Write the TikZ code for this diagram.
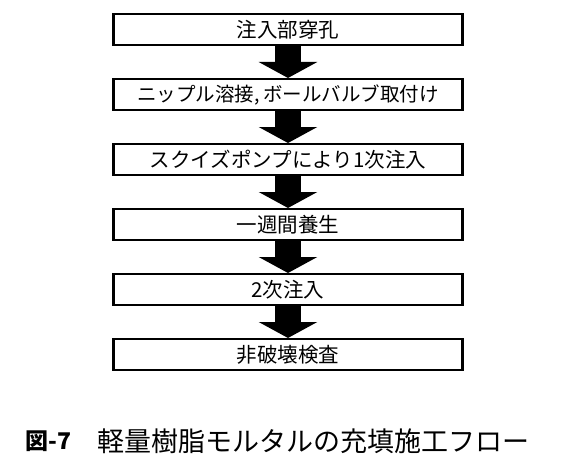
\documentclass[tikz,border=0pt]{standalone}
\usepackage{fontspec}
\setmainfont{Noto Sans CJK JP}
\usetikzlibrary{arrows.meta,positioning}

\begin{document}
\begin{tikzpicture}[
  node distance=32pt,
  block/.style={rectangle, draw=black, line width=2.4pt, align=center, minimum height=30.6pt, minimum width=349pt, font=\fontsize{20.5}{23}\selectfont},
  line/.style={-{Triangle[length=16pt, width=58pt]}, line width=26pt},
  caption/.style={anchor=west, inner sep=0pt, font=\fontsize{27}{30}\selectfont}
]
\useasboundingbox (0,0) rectangle (567pt,-476pt);
\node[block] (bore) at (288pt,-29.5pt) {注入部穿孔};
\node[block, below=of bore, font=\fontsize{19.5}{23}\selectfont] (nipple) {ニップル溶接,\,ボールバルブ取付け};
\node[block, below=of nipple] (first) {スクイズポンプにより1次注入};
\node[block, below=of first] (cure) {一週間養生};
\node[block, below=of cure] (second) {2次注入};
\node[block, below=of second] (inspect) {非破壊検査};

\draw[line] (bore) -- (nipple);
\draw[line] (nipple) -- (first);
\draw[line] (first) -- (cure);
\draw[line] (cure) -- (second);
\draw[line] (second) -- (inspect);

\node[caption, font=\fontsize{23}{26}\selectfont\bfseries] (fignum) at (25pt,-441pt) {図-7};
\node[caption] (title) at (97pt,-441pt) {軽量樹脂モルタルの充填施工フロー};
\end{tikzpicture}
\end{document}
